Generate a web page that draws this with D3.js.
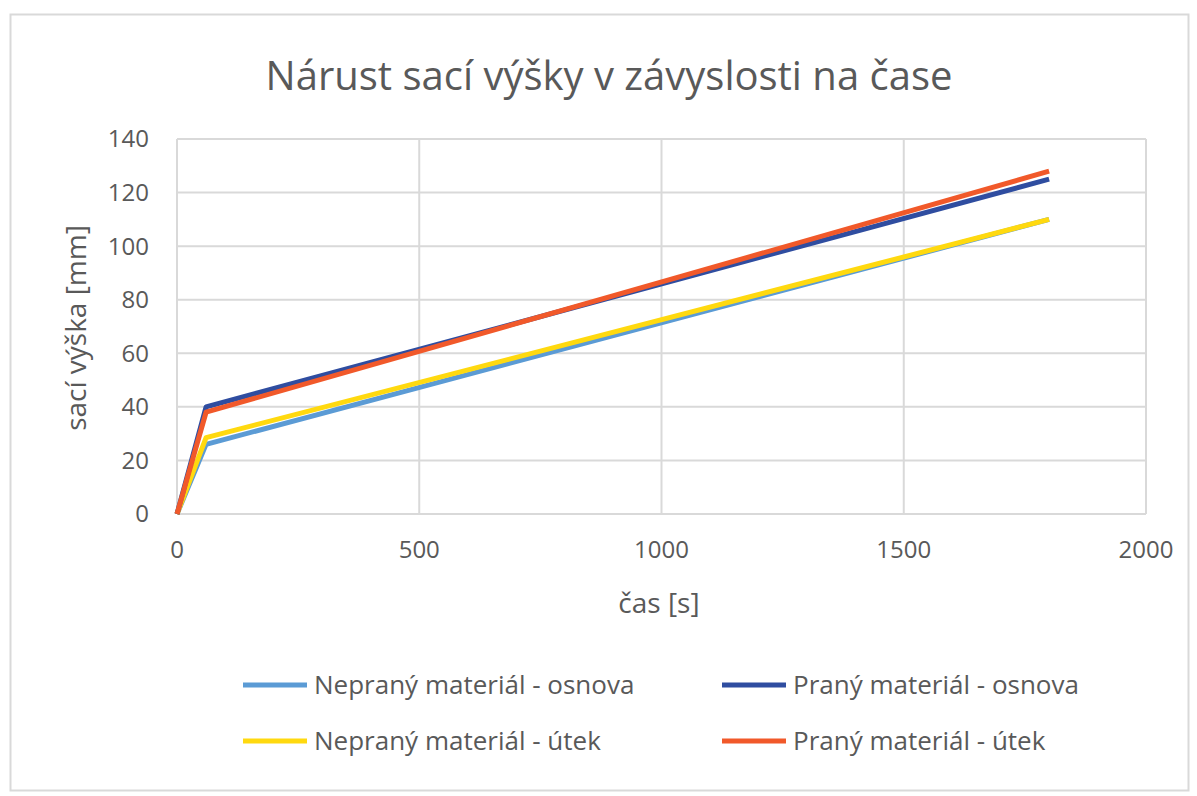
<!DOCTYPE html>
<html>
<head>
<meta charset="utf-8">
<script src="https://cdn.jsdelivr.net/npm/d3@7"></script>
<style>
body{margin:0;background:#fff;}
text{font-family:"Open Sans","Liberation Sans",sans-serif;fill:#595959;}
</style>
</head>
<body>
<svg width="1197" height="796"></svg>
<script>
var times = [0, 60, 1800];
var seriesNames = ["Nepraný materiál - osnova", "Praný materiál - osnova", "Nepraný materiál - útek", "Praný materiál - útek"];
var neOsnova = [0, 26, 110];
var praOsnova = [0, 40, 125];
var neUtek = [0, 28.5, 110];
var praUtek = [0, 38, 128];
var xTicks = [0, 500, 1000, 1500, 2000];
var yTicks = [0, 20, 40, 60, 80, 100, 120, 140];
var colors = ["#5b9bd5", "#2f4da0", "#ffd90f", "#f1592a"];

var svg = d3.select("svg");

// chart frame
svg.append("rect").attr("x", 10.5).attr("y", 14.5).attr("width", 1178).attr("height", 776)
    .attr("fill", "#fff").attr("stroke", "#d9d9d9").attr("stroke-width", 2);

var x = d3.scaleLinear().domain([0, 2000]).range([177, 1146]);
var y = d3.scaleLinear().domain([0, 140]).range([514, 139]);

// grid
svg.append("g").selectAll("line").data(yTicks).enter().append("line")
    .attr("x1", x(0)).attr("x2", x(2000))
    .attr("y1", function(d){return y(d)}).attr("y2", function(d){return y(d)})
    .attr("stroke", "#d9d9d9").attr("stroke-width", 2);
svg.append("g").selectAll("line").data(xTicks).enter().append("line")
    .attr("x1", function(d){return x(d)}).attr("x2", function(d){return x(d)})
    .attr("y1", y(0)).attr("y2", y(140))
    .attr("stroke", "#d9d9d9").attr("stroke-width", 2);

// tick labels
svg.append("g").selectAll("text").data(yTicks).enter().append("text")
    .attr("x", 149).attr("y", function(d){return y(d)})
    .attr("dy", "0.35em").attr("text-anchor", "end")
    .attr("font-size", 24).text(function(d){return d});
svg.append("g").selectAll("text").data(xTicks).enter().append("text")
    .attr("x", function(d){return x(d)}).attr("y", 558)
    .attr("text-anchor", "middle")
    .attr("font-size", 24).text(function(d){return d});

// lines
var allSeries = [neOsnova, praOsnova, neUtek, praUtek];
var line = d3.line().x(function(d, i){return x(times[i])}).y(function(d){return y(d)});
var drawOrder = [0, 2, 1, 3];
drawOrder.forEach(function(s){
    svg.append("path").datum(allSeries[s])
	.attr("d", line)
	.attr("fill", "none")
	.attr("stroke", colors[s])
	.attr("stroke-width", 5)
	.attr("stroke-linejoin", "round");
});

// titles
svg.append("text").attr("x", 609).attr("y", 90).attr("text-anchor", "middle")
    .attr("font-size", 40).text("Nárust sací výšky v závyslosti na čase");
svg.append("text").attr("x", 659).attr("y", 613).attr("text-anchor", "middle")
    .attr("font-size", 28).text("čas [s]");
svg.append("text").attr("transform", "translate(86,328) rotate(-90)")
    .attr("text-anchor", "middle")
    .attr("font-size", 28).text("sací výška [mm]");

// legend
var legX = [243, 722];
var legY = [685, 741];
seriesNames.forEach(function(n, i){
    var lx = legX[i % 2], ly = legY[Math.floor(i / 2)];
    svg.append("line").attr("x1", lx).attr("x2", lx + 64)
	.attr("y1", ly).attr("y2", ly)
	.attr("stroke", colors[i]).attr("stroke-width", 5);
    svg.append("text").attr("x", lx + 71).attr("y", ly).attr("dy", "0.35em")
	.attr("font-size", 26).text(n);
});
</script>
</body>
</html>
